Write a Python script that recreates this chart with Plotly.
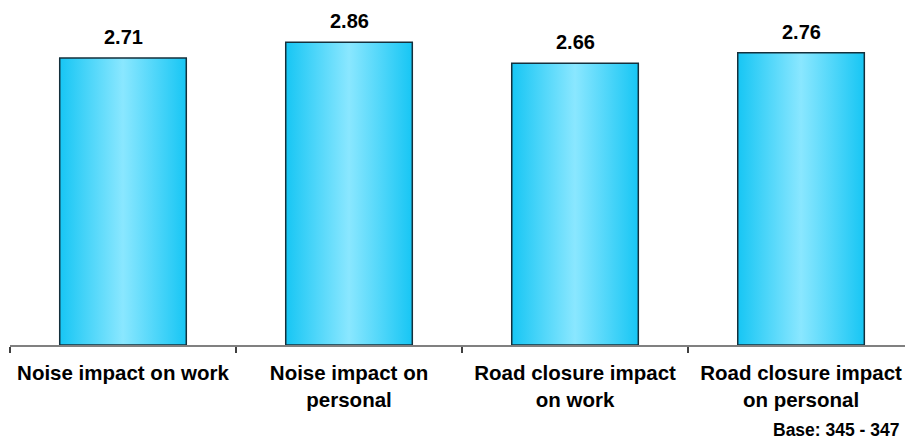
import plotly.graph_objects as go

categories = [
    "Noise impact on work",
    "Noise impact on<br>personal",
    "Road closure impact<br>on work",
    "Road closure impact<br>on personal",
]
values = [2.71, 2.86, 2.66, 2.76]
value_labels = ["2.71", "2.86", "2.66", "2.76"]
base_note = "Base: 345 - 347"

FONT = "Liberation Sans, Arial, sans-serif"
BAR_W = 0.56
EDGE = "#17c6f4"
CENTER = "#8ae7ff"

fig = go.Figure()

# Each bar is a closed polygon filled with a left-to-right gradient
for i, v in enumerate(values):
    x0, x1 = i - BAR_W / 2, i + BAR_W / 2
    fig.add_trace(go.Scatter(
        x=[x0, x1, x1, x0, x0],
        y=[0, 0, v, v, 0],
        mode="lines",
        fill="toself",
        fillgradient=dict(
            type="horizontal",
            colorscale=[[0, EDGE], [0.5, CENTER], [1, EDGE]],
        ),
        line=dict(color="#14303c", width=1.5),
        hoverinfo="skip",
        showlegend=False,
    ))
    fig.add_annotation(
        x=i, y=v, xref="x", yref="y",
        text="<b>%s</b>" % value_labels[i],
        showarrow=False, yanchor="bottom", yshift=8,
        font=dict(family=FONT, size=20, color="#000000"),
    )

fig.add_annotation(
    x=1, y=0, xref="paper", yref="paper",
    text="<b>%s</b>" % base_note,
    showarrow=False, xanchor="right", yanchor="top",
    xshift=-4, yshift=-73,
    font=dict(family=FONT, size=17.5, color="#000000"),
)

fig.update_xaxes(
    range=[-0.5, 3.46],
    tickvals=list(range(len(categories))),
    ticktext=["<b>%s</b>" % c for c in categories],
    ticks="",
    ticklabelstandoff=9,
    tickfont=dict(family=FONT, size=20.5, color="#000000"),
    showline=True, linecolor="#808080", linewidth=1.5,
    showgrid=False, zeroline=False,
    minor=dict(
        tickvals=[-0.5, 0.5, 1.5, 2.5, 3.5],
        ticks="outside", ticklen=6, tickcolor="#404040", tickwidth=1.5,
        showgrid=False,
    ),
)
fig.update_yaxes(range=[0, 3.258], visible=False, showgrid=False, zeroline=False)

fig.update_layout(
    width=905, height=441,
    margin=dict(l=10, r=0, t=0, b=96),
    paper_bgcolor="#ffffff", plot_bgcolor="#ffffff",
    font=dict(family=FONT, color="#000000"),
)

fig.write_html("out.html")
